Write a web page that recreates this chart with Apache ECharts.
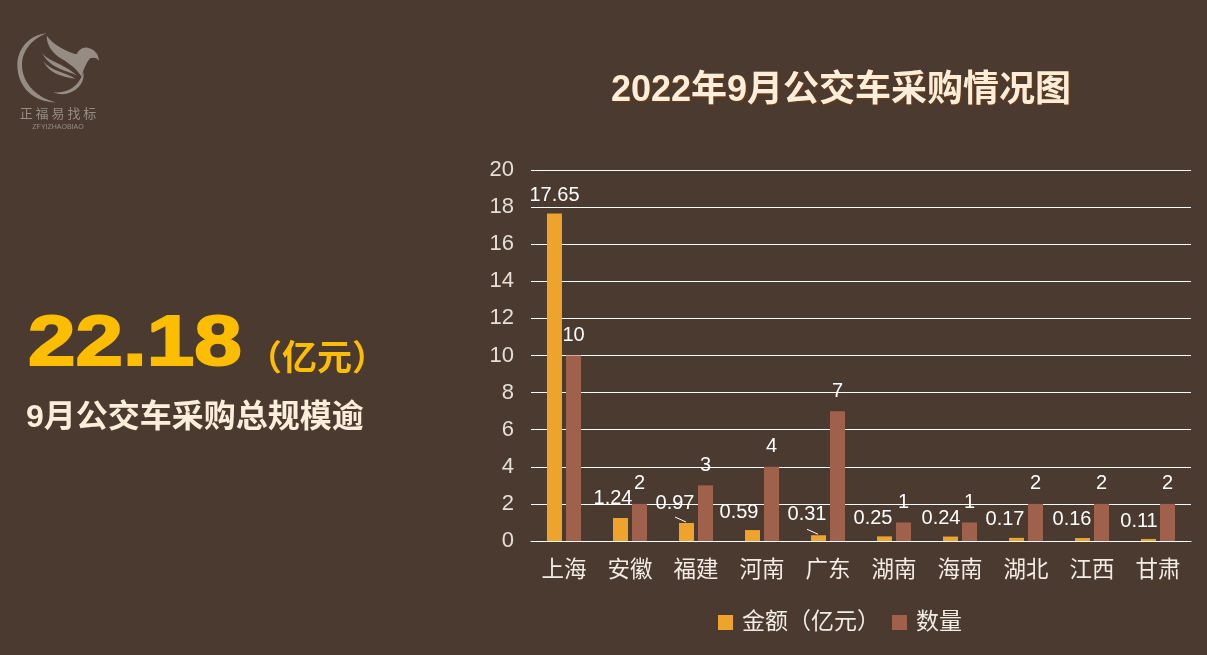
<!DOCTYPE html>
<html>
<head>
<meta charset="utf-8">
<title>2022年9月公交车采购情况图</title>
<script src="https://cdn.jsdelivr.net/npm/echarts@6/dist/echarts.min.js"></script>
<style>
  html, body { margin: 0; padding: 0; background: #4b3a30; }
  #chart { width: 1207px; height: 655px; }
</style>
</head>
<body>
<div id="chart"></div>
<script>
const categories = ['上海', '安徽', '福建', '河南', '广东', '湖南', '海南', '湖北', '江西', '甘肃'];
const amountValues = [17.65, 1.24, 0.97, 0.59, 0.31, 0.25, 0.24, 0.17, 0.16, 0.11];
const countValues = [10, 2, 3, 4, 7, 1, 1, 2, 2, 2];
const yTicks = [0, 20, 2];
// 金额标签相对默认位置的偏移，和数据分开放
const amountLabelDx = [0, -7.5, -11.5, -13.5, -11.5, -11.5, -9.5, -11.5, -10.5, -9.5];
const amountLabelDy = [-3.5, -4.5, -4.5, -2.5, -5.5, -2.5, -3.5, -3.5, -3.5, -2.5];
const leaderLines = ['福建', '广东'];

const cjk = '"Liberation Sans","Noto Sans CJK SC",sans-serif';
const cream = '#fdeedb';
const logoColor = '#968c84';

const chart = echarts.init(document.getElementById('chart'));

// 左上角logo，坐标按放大图量的，group缩回去
const logoPaths = [
  'M140 55 C85 60 52 105 52 150 C52 215 100 262 168 262 C120 252 66 210 66 150 C66 105 100 70 140 55 Z',
  'M160 232 C205 236 235 215 250 172 C258 215 205 252 160 232 Z',
  'M140 62 C140 85 150 105 175 125 C200 140 225 155 245 185 C250 165 258 145 270 130 C282 126 292 128 296 138 C298 120 285 102 262 98 C248 96 236 105 230 118 C200 110 160 90 140 62 Z',
  'M125 112 C140 138 190 145 232 182 C195 165 148 160 125 112 Z',
  'M130 138 C150 168 195 170 228 192 C195 186 150 180 130 138 Z'
];
logoPaths.forEach((d, i) => {
  echarts.graphic.registerShape('logo' + i, echarts.graphic.extendPath(d, {}));
});

const option = {
  backgroundColor: '#4b3a30',
  animation: false,
  title: {
    text: '2022年9月公交车采购情况图',
    left: 836,
    top: 68,
    textAlign: 'center',
    textStyle: {
      fontFamily: cjk,
      fontSize: 36,
      fontWeight: 'bold',
      color: cream,
      textShadowColor: 'rgba(120,60,10,0.9)',
      textShadowBlur: 2,
      textShadowOffsetX: 1,
      textShadowOffsetY: 1
    }
  },
  grid: { left: 531, right: 16, top: 170, bottom: 114 },
  legend: {
    left: 713,
    top: 606,
    icon: 'rect',
    itemWidth: 15,
    itemHeight: 15,
    itemGap: 12,
    textStyle: { color: '#f2ece5', fontSize: 23, fontFamily: cjk, padding: [0, 0, 0, 4] },
    data: ['金额（亿元）', '数量']
  },
  xAxis: {
    type: 'category',
    data: categories,
    axisTick: { show: false },
    axisLine: { lineStyle: { color: '#ffffff', width: 1 } },
    axisLabel: { color: '#f2ece5', fontSize: 22.5, fontFamily: cjk, margin: 19, interval: 0 }
  },
  yAxis: {
    type: 'value',
    min: yTicks[0],
    max: yTicks[1],
    interval: yTicks[2],
    axisLine: { show: false },
    axisTick: { show: false },
    splitLine: { lineStyle: { color: '#ffffff', width: 1 } },
    axisLabel: { color: '#e6dfd7', fontSize: 22, fontFamily: cjk, margin: 17, padding: [4, 0, 0, 0] }
  },
  series: [
    {
      name: '金额（亿元）',
      type: 'bar',
      barWidth: 15,
      barGap: '27%',
      itemStyle: { color: '#eea32c' },
      data: amountValues,
      label: { show: true, position: 'top', distance: 5, color: '#ffffff', fontSize: 20, fontFamily: cjk },
      labelLayout: p => ({ dx: amountLabelDx[p.dataIndex], dy: amountLabelDy[p.dataIndex] })
    },
    {
      name: '数量',
      type: 'bar',
      barWidth: 15,
      itemStyle: { color: '#a0614c' },
      data: countValues,
      label: { show: true, position: 'top', distance: 10, color: '#ffffff', fontSize: 20, fontFamily: cjk }
    }
  ],
  graphic: [
    {
      type: 'group',
      x: 0, y: 15, scaleX: 1 / 3, scaleY: 1 / 3,
      children: logoPaths.map((d, i) => ({
        type: 'logo' + i,
        style: { fill: logoColor }
      }))
    },
    {
      type: 'text', x: 58, y: 113,
      style: { text: '正 福 易 找 标', fill: logoColor, font: '13px "Noto Sans CJK SC"', textAlign: 'center', textVerticalAlign: 'middle' }
    },
    {
      type: 'text', x: 58, y: 127,
      style: { text: 'ZFYIZHAOBIAO', fill: logoColor, font: '7px "Liberation Sans"', textAlign: 'center', textVerticalAlign: 'middle' }
    },
    {
      type: 'text', x: 28, y: 346, scaleX: 1.22,
      style: {
        text: '22.18', fill: '#fdbd00', stroke: '#fdbd00', lineWidth: 2,
        font: 'bold 70px "Liberation Sans"', textVerticalAlign: 'middle',
        shadowColor: 'rgba(0,0,0,0.5)', shadowBlur: 3, shadowOffsetX: 2, shadowOffsetY: 2
      }
    },
    {
      type: 'text', x: 247, y: 357,
      style: {
        text: '（亿元）', fill: '#fdbd00',
        font: 'bold 35px "Noto Sans CJK SC"', textVerticalAlign: 'middle',
        shadowColor: 'rgba(0,0,0,0.5)', shadowBlur: 3, shadowOffsetX: 1, shadowOffsetY: 1
      }
    },
    {
      type: 'text', x: 26, y: 418,
      style: {
        text: '9月公交车采购总规模逾', fill: cream,
        font: 'bold 32px "Liberation Sans","Noto Sans CJK SC"', textVerticalAlign: 'middle',
        shadowColor: 'rgba(120,60,10,0.9)', shadowBlur: 2, shadowOffsetX: 1, shadowOffsetY: 1
      }
    }
  ]
};

chart.setOption(option);

// 福建、广东的小引线，从柱顶连到标签
chart.setOption({
  graphic: leaderLines.map(name => {
    const i = categories.indexOf(name);
    const p = chart.convertToPixel({ seriesIndex: 0 }, [i, amountValues[i]]);
    return {
      type: 'line',
      id: 'leader-' + name,
      shape: { x1: p[0] - 21, y1: p[1] - 6, x2: p[0] - 10, y2: p[1] - 1 },
      style: { stroke: '#ffffff', lineWidth: 1 }
    };
  })
});
</script>
</body>
</html>
